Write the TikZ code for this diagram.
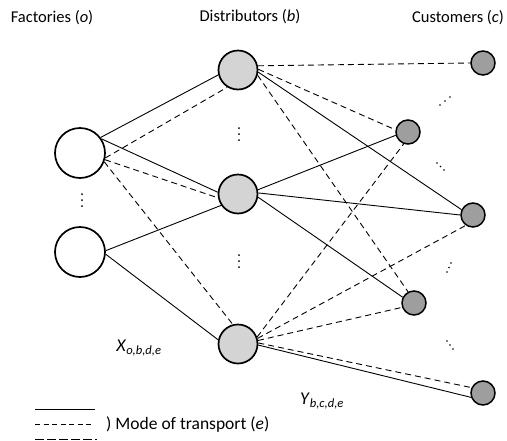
\documentclass[tikz,border=0pt]{standalone}
\usepackage{fontspec}
\setmainfont{Carlito}
\begin{document}
\begin{tikzpicture}[x=1pt,y=-1pt,
  fact/.style={circle,draw=black,line width=1.7pt,fill=white,minimum size=50pt,inner sep=0pt},
  dist/.style={circle,draw=black,line width=1.7pt,fill=distgray,minimum size=39pt,inner sep=0pt},
  cust/.style={circle,draw=black,line width=1.5pt,fill=custgray,minimum size=24pt,inner sep=0pt},
  sol/.style={line width=0.9pt},
  dsh/.style={line width=0.9pt,dash pattern=on 6pt off 4pt},
  lbl/.style={font=\fontsize{16.5}{19}\selectfont,inner sep=0pt},
  dotc/.style={fill=black}
]
\definecolor{distgray}{RGB}{212,212,212}
\definecolor{custgray}{RGB}{158,158,158}
\useasboundingbox (0,0) rectangle (507,440);
\fill[white] (0,0) rectangle (507,440);

% labels
\node[lbl] (lf) at (52,18) {Factories (\textit{o})};
\node[lbl] (ld) at (250,17) {Distributors (\textit{b})};
\node[lbl] (lc) at (458,18) {Customers (\textit{c})};

\node[fact] (f1) at (80,153) {};
\node[fact] (f2) at (80,252) {};
\node[dist] (d1) at (238,70) {};
\node[dist] (d2) at (238,194) {};
\node[dist] (d3) at (238,344) {};
\node[cust] (c1) at (483,63) {};
\node[cust] (c2) at (408,132) {};
\node[cust] (c3) at (473,215) {};
\node[cust] (c4) at (414,303) {};
\node[cust] (c5) at (483,393) {};

% factory -> distributor
\draw[sol] (f1.37) -- (d1.194);
\draw[dsh] (f1.-11) -- (d1.238);
\draw[sol] (f1.33) -- (d2.175);
\draw[dsh] (f1.-15) -- (d2.191);
\draw[dsh] (f1.-20) -- (d3.105);
\draw[sol] (f2.3) -- (d2.214);
\draw[sol] (f2.-5) -- (d3.168);

% distributor -> customer
\draw[dsh] (d1.12) -- (c1.180);
\draw[dsh] (d1.2) -- (c2.170);
\draw[sol] (d1.-6) -- (c3.155);
\draw[dsh] (d1.-15) -- (c4.118);
\draw[sol] (d2.12) -- (c2.195);
\draw[sol] (d2.3) -- (c3.180);
\draw[sol] (d2.-9) -- (c4.153);
\draw[dsh] (d3.20) -- (c2.250);
\draw[dsh] (d3.16) -- (c3.235);
\draw[dsh] (d3.10) -- (c4.200);
\draw[dsh] (d3.3) -- (c5.155);
\draw[sol] (d3.-3) -- (c5.200);

% dots
\foreach \y in {194,200,206} \fill[dotc] (82,\y) circle (1pt);
\foreach \y in {128,134,140} \fill[dotc] (239,\y) circle (1pt);
\foreach \y in {255,261,267} \fill[dotc] (239,\y) circle (1pt);
\foreach \p in {(440,105),(445,101),(450,97)} \fill[dotc] \p circle (0.9pt);
\foreach \p in {(437,163),(440.5,166.5),(444,170)} \fill[dotc] \p circle (0.9pt);
\foreach \p in {(447,272),(449,267.5),(451,263)} \fill[dotc] \p circle (0.9pt);
\foreach \p in {(447,341),(450,345),(453,349)} \fill[dotc] \p circle (0.9pt);

% variable labels
\node[lbl,font=\fontsize{18}{21}\selectfont] (xl) at (139,348) {\textit{X}\textsubscript{\textit{o,b,d,e}}};
\node[lbl,font=\fontsize{18}{21}\selectfont] (yl) at (322,401) {\textit{Y}\textsubscript{\textit{b,c,d,e}}};

% legend
\coordinate (l1a) at (35,409); \coordinate (l1b) at (95,409);
\coordinate (l2a) at (35,424); \coordinate (l2b) at (93,424);
\coordinate (l3a) at (35,439); \coordinate (l3b) at (97,439);
\draw[sol] (l1a) -- (l1b);
\draw[line width=0.9pt,dash pattern=on 5pt off 3.5pt] (l2a) -- (l2b);
\draw[line width=0.9pt,dash pattern=on 9pt off 3pt] (l3a) -- (l3b);
\node[lbl,anchor=west,font=\fontsize{17.5}{21}\selectfont] (lt) at (106,425) {) Mode of transport (\textit{e})};
\end{tikzpicture}
\end{document}
